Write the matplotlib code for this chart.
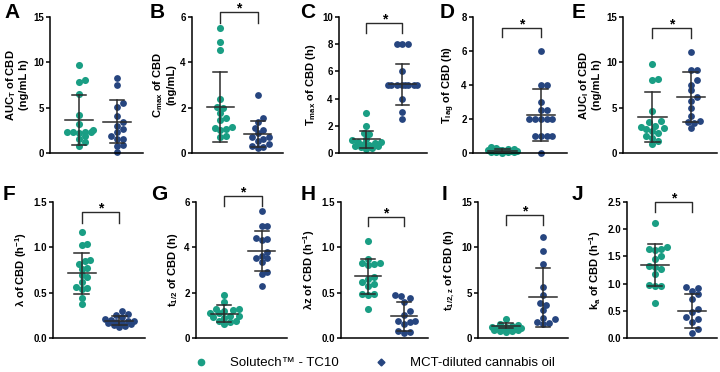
import numpy as np
import matplotlib
matplotlib.use("Agg")
import matplotlib.pyplot as plt
from matplotlib.lines import Line2D

plt.rcParams['font.family'] = ['Liberation Sans', 'DejaVu Sans']
plt.rcParams['mathtext.fontset'] = 'custom'
plt.rcParams['mathtext.rm'] = 'Liberation Sans'
plt.rcParams['mathtext.it'] = 'Liberation Sans:italic'
plt.rcParams['mathtext.bf'] = 'Liberation Sans:bold'
plt.rcParams['mathtext.default'] = 'bf'

GREEN = '#1a9e84'
BLUE = '#26457f'

# ---- data ----
group_names = ["Solutech\u2122 - TC10", "MCT-diluted cannabis oil"]

A_sol = [9.7, 8.0, 7.8, 6.5, 4.2, 3.2, 2.5, 2.3, 2.3, 2.3, 2.3, 2.2, 1.9, 1.55, 1.2, 0.8]
A_mct = [8.3, 7.45, 5.5, 5.05, 4.1, 3.4, 3.0, 2.65, 2.3, 1.9, 1.55, 1.55, 0.9, 0.8, 0.15]
B_sol = [5.5, 4.9, 4.55, 2.37, 2.05, 2.0, 1.77, 1.53, 1.45, 1.16, 1.12, 1.05, 1.0, 0.73, 0.7]
B_mct = [2.57, 1.53, 1.38, 1.12, 1.02, 0.87, 0.7, 0.7, 0.62, 0.51, 0.41, 0.29, 0.22, 0.25]
C_sol = [2.96, 2.0, 1.5, 1.38, 1.0, 0.95, 0.8, 0.78, 0.75, 0.65, 0.6, 0.53, 0.5, 0.41, 0.35, 0.3]
C_mct = [8, 8, 8, 6, 5, 5, 5, 5, 5, 5, 5, 5, 4, 3, 2.5]
D_sol = [0.33, 0.28, 0.25, 0.22, 0.2, 0.18, 0.17, 0.15, 0.12, 0.1, 0.1, 0.08, 0.05, 0.05, 0.03, 0.0]
D_mct = [6, 4, 4, 3, 2.5, 2.5, 2, 2, 2, 2, 2, 1, 1, 1, 1, 0]
E_sol = [9.83, 8.2, 8.03, 4.62, 3.52, 3.4, 2.97, 2.86, 2.79, 2.6, 2.4, 2.24, 1.87, 1.69, 1.32, 0.95]
E_mct = [11.15, 9.2, 9.13, 8.1, 7.55, 6.9, 6.16, 5.72, 4.91, 4.07, 3.52, 3.45, 3.34, 2.71]
F_sol = [1.17, 1.04, 1.03, 0.86, 0.85, 0.82, 0.77, 0.76, 0.69, 0.67, 0.62, 0.56, 0.555, 0.54, 0.44, 0.37]
F_mct = [0.30, 0.26, 0.25, 0.23, 0.21, 0.2, 0.19, 0.19, 0.18, 0.17, 0.16, 0.15, 0.14, 0.13, 0.12]
G_sol = [1.91, 1.58, 1.29, 1.28, 1.22, 1.21, 1.11, 1.1, 0.99, 0.98, 0.92, 0.9, 0.77, 0.75, 0.7, 0.62]
G_mct = [5.61, 4.96, 4.92, 4.43, 4.37, 4.33, 3.81, 3.63, 3.54, 3.52, 3.36, 2.92, 2.84, 2.3]
H_sol = [1.07, 0.87, 0.83, 0.83, 0.82, 0.8, 0.67, 0.655, 0.62, 0.6, 0.57, 0.49, 0.48, 0.47, 0.32]
H_mct = [0.47, 0.46, 0.44, 0.40, 0.30, 0.25, 0.19, 0.19, 0.18, 0.155, 0.08, 0.063, 0.06]
I_sol = [2.1, 1.55, 1.4, 1.37, 1.2, 1.18, 1.1, 1.07, 1.0, 1.0, 0.95, 0.9, 0.85, 0.8, 0.75, 0.7]
I_mct = [11.1, 9.6, 8.2, 5.6, 4.7, 3.85, 3.67, 3.04, 2.22, 2.1, 1.81, 1.67, 1.55]
J_sol = [2.12, 1.67, 1.64, 1.63, 1.61, 1.5, 1.46, 1.32, 1.31, 1.26, 1.17, 0.97, 0.96, 0.95, 0.64]
J_mct = [0.93, 0.92, 0.87, 0.80, 0.71, 0.53, 0.47, 0.38, 0.35, 0.29, 0.16, 0.10]

# mean and SD as drawn (Solutech, MCT)
means = {'A': (3.6, 3.45), 'B': (2.03, 0.84), 'C': (1.0, 5.05), 'D': (0.13, 2.23),
         'E': (3.97, 6.2), 'F': (0.715, 0.19), 'G': (1.07, 3.84), 'H': (0.68, 0.24),
         'I': (1.37, 4.5), 'J': (1.34, 0.5)}
sds = {'A': (2.75, 2.35), 'B': (1.55, 0.57), 'C': (0.65, 1.5), 'D': (0.1, 1.55),
       'E': (2.75, 2.75), 'F': (0.225, 0.05), 'G': (0.37, 0.88), 'H': (0.19, 0.16),
       'I': (0.3, 3.24), 'J': (0.38, 0.31)}

ylabels = {
    'A': "AUC$_{T}$ of CBD\n(ng/mL h)",
    'B': "C$_{max}$ of CBD\n(ng/mL)",
    'C': "T$_{max}$ of CBD (h)",
    'D': "T$_{lag}$ of CBD (h)",
    'E': "AUC$_{I}$ of CBD\n(ng/mL h)",
    'F': "\u03bb of CBD (h$^{-1}$)",
    'G': "t$_{1/2}$ of CBD (h)",
    'H': "\u03bbz of CBD (h$^{-1}$)",
    'I': "t$_{1/2,z}$ of CBD (h)",
    'J': "k$_{a}$ of CBD (h$^{-1}$)",
}
yticks = {'A': [0, 5, 10, 15], 'B': [0, 2, 4, 6], 'C': [0, 2, 4, 6, 8, 10],
          'D': [0, 2, 4, 6, 8], 'E': [0, 5, 10, 15], 'F': [0.0, 0.5, 1.0, 1.5],
          'G': [0, 2, 4, 6], 'H': [0.0, 0.5, 1.0, 1.5], 'I': [0, 5, 10, 15],
          'J': [0.0, 0.5, 1.0, 1.5, 2.0, 2.5]}
values = {'A': (A_sol, A_mct), 'B': (B_sol, B_mct), 'C': (C_sol, C_mct), 'D': (D_sol, D_mct),
          'E': (E_sol, E_mct), 'F': (F_sol, F_mct), 'G': (G_sol, G_mct), 'H': (H_sol, H_mct),
          'I': (I_sol, I_mct), 'J': (J_sol, J_mct)}
# significance bracket (top, leg bottom) in data units, None = no bracket
brackets = {'A': None, 'B': (6.23, 5.75), 'C': (9.56, 8.83), 'D': (7.35, 6.8),
            'E': (13.8, 12.7), 'F': (1.39, 1.27), 'G': (6.27, 5.83), 'H': (1.34, 1.23),
            'I': (13.6, 12.5), 'J': (2.5, 2.32)}

W, H = 720, 372
# axes extents in pixels: (left, right); rows share top/bottom
cols_row1 = {'A': (50, 143), 'B': (192, 283), 'C': (339, 427), 'D': (473, 567), 'E': (623, 717)}
cols_row2 = {'F': (53, 145), 'G': (196, 287), 'H': (341, 428), 'I': (478, 568), 'J': (627, 717)}
rows = [((17, 153), cols_row1), ((202, 338), cols_row2)]
letter_pos = {'A': (4, 3), 'B': (150, 3), 'C': (300, 3), 'D': (440, 3), 'E': (572, 3),
              'F': (3, 185), 'G': (151, 185), 'H': (301, 185), 'I': (442, 185), 'J': (572, 185)}

fig = plt.figure(figsize=(W / 100, H / 100), dpi=100)


def swarm(ax, xc, vals, d_px, maxw_px):
    vals = np.asarray(vals, float)
    pts = ax.transData.transform(np.column_stack([np.full(len(vals), xc), vals]))
    ys = pts[:, 1]
    x0 = pts[0, 0]
    order = np.argsort(ys)
    placed = []
    xs = np.zeros(len(vals))
    step = d_px * 0.5
    for i in order:
        cands = [0.0]
        k = 1
        while k * step <= maxw_px:
            cands += [k * step, -k * step]
            k += 1
        best, bestd = 0.0, -1
        for off in cands:
            md = min([np.hypot(off - px, ys[i] - py) for px, py in placed] or [1e9])
            if md >= d_px:
                best = off
                break
            if md > bestd:
                bestd, best = md, off
        placed.append((best, ys[i]))
        xs[i] = x0 + best
    return ax.transData.inverted().transform(np.column_stack([xs, ys]))


for (top, bot), cols in rows:
    for key, (l, r) in cols.items():
        ax = fig.add_axes([l / W, 1 - bot / H, (r - l) / W, (bot - top) / H])
        ax.set_xlim(-0.76, 1.68)
        yt = yticks[key]
        ax.set_ylim(yt[0], yt[-1])
        ax.set_yticks(yt)
        if isinstance(yt[1], float):
            ax.set_yticklabels(["%.1f" % t for t in yt])
        ax.set_xticks([])
        for s in ['top', 'right']:
            ax.spines[s].set_visible(False)
        for s in ['left', 'bottom']:
            ax.spines[s].set_linewidth(1.1)
        ax.tick_params(axis='y', length=3, width=1.1, pad=1.5, labelsize=7)
        for t in ax.get_yticklabels():
            t.set_fontweight('bold')
        ax.set_ylabel(ylabels[key], fontsize=8, fontweight='bold', labelpad=3, linespacing=1.1)

        for gi, (vals, col, ms) in enumerate(zip(values[key], [GREEN, BLUE], [26, 24])):
            xy = swarm(ax, gi, vals, 5.8, 17)
            ax.scatter(xy[:, 0], xy[:, 1], s=ms, color=col, marker='o', linewidths=0, zorder=2, clip_on=False)
            m, sd = means[key][gi], sds[key][gi]
            lc = '#2b2b2b'
            ax.plot([gi, gi], [max(m - sd, 0), m + sd], color=lc, lw=1.1, zorder=3)
            ax.plot([gi - 0.19, gi + 0.19], [m + sd, m + sd], color=lc, lw=1.1, zorder=3)
            if m - sd > 0:
                ax.plot([gi - 0.19, gi + 0.19], [m - sd, m - sd], color=lc, lw=1.1, zorder=3)
            ax.plot([gi - 0.37, gi + 0.37], [m, m], color=lc, lw=1.1, zorder=3)

        br = brackets[key]
        if br is not None:
            btop, bleg = br
            ax.plot([0, 0, 1, 1], [bleg, btop, btop, bleg], color='#2b2b2b', lw=1.0, clip_on=False)
            ax.annotate('*', xy=(0.5, btop), xytext=(0, 2.5), textcoords='offset points',
                        ha='center', va='center', fontsize=10, fontweight='bold',
                        annotation_clip=False)

        lx, ly = letter_pos[key]
        fig.text(lx / W, 1 - ly / H, key, fontsize=15, fontweight='bold', ha='left', va='top')

handles = [Line2D([], [], marker='o', color=GREEN, linestyle='none', markersize=4.5),
           Line2D([], [], marker='D', color=BLUE, linestyle='none', markersize=3.5)]
fig.legend(handles, group_names, loc='center', bbox_to_anchor=(0.516, 1 - 363 / H), ncol=2,
           frameon=False, fontsize=9.5, handletextpad=1.2, columnspacing=2.2)

fig.savefig("out.png", dpi=100)
